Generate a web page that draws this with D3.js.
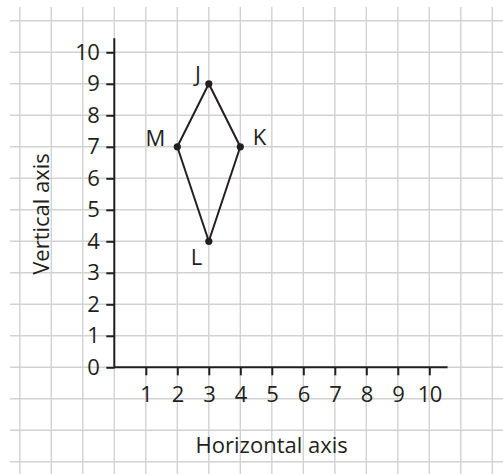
<!DOCTYPE html>
<html>
<head>
<meta charset="utf-8">
<script src="https://cdn.jsdelivr.net/npm/d3@7"></script>
<style>
  html, body { margin: 0; padding: 0; background: #fff; }
  svg { display: block; }
  text { font-family: "Open Sans", sans-serif; fill: #231f20; }
</style>
</head>
<body>
<svg width="503" height="474"></svg>
<script>
// points of the shape
var names = ["J", "K", "L", "M"];
var xs = [3, 4, 3, 2];
var ys = [9, 7, 4, 7];
var xTicks = [1, 2, 3, 4, 5, 6, 7, 8, 9, 10];
var yTicks = [0, 1, 2, 3, 4, 5, 6, 7, 8, 9, 10];
var xTitle = "Horizontal axis";
var yTitle = "Vertical axis";

var svg = d3.select("svg"),
    width = +svg.attr("width"),
    height = +svg.attr("height"),
    ink = "#231f20",
    fs = "22px";

// 1 unit = 31.5px
var x = d3.scaleLinear().domain([0, 10]).range([114.3, 429.3]);
var y = d3.scaleLinear().domain([0, 10]).range([367.3, 52.3]);

// grid
var grid = svg.append("g").attr("stroke", "#d2d2d2").attr("stroke-width", 1.4);
grid.selectAll(".gx").data(d3.range(-3, 13)).enter().append("line")
    .attr("x1", d => x(d)).attr("x2", d => x(d))
    .attr("y1", 7).attr("y2", height);
grid.selectAll(".gy").data(d3.range(-3, 12)).enter().append("line")
    .attr("x1", 10).attr("x2", width)
    .attr("y1", d => y(d)).attr("y2", d => y(d));

// axes
var xAxis = svg.append("g")
    .attr("transform", "translate(0," + y(0) + ")")
    .call(d3.axisBottom(x).tickValues(xTicks).tickSize(8).tickPadding(11).tickFormat(d3.format("d")));
var yAxis = svg.append("g")
    .attr("transform", "translate(" + x(0) + ",0)")
    .call(d3.axisLeft(y).tickValues(yTicks).tickSize(8).tickPadding(7).tickFormat(d3.format("d")));

[xAxis, yAxis].forEach(function(a) {
  a.select(".domain").remove();
  a.selectAll("line").attr("stroke", ink).attr("stroke-width", 2);
  a.selectAll("text").attr("fill", ink).style("font-size", fs).style("letter-spacing", "-0.6px");
});

svg.append("line")
    .attr("x1", x(0)).attr("x2", x(10.58))
    .attr("y1", y(0)).attr("y2", y(0))
    .attr("stroke", ink).attr("stroke-width", 2);
svg.append("line")
    .attr("x1", x(0)).attr("x2", x(0))
    .attr("y1", y(0) + 1).attr("y2", y(10.45))
    .attr("stroke", ink).attr("stroke-width", 2);

// titles
svg.append("text")
    .attr("x", 271.7).attr("y", 453)
    .attr("text-anchor", "middle")
    .style("font-size", fs)
    .text(xTitle);
svg.append("text")
    .attr("transform", "translate(49,214) rotate(-90)")
    .attr("text-anchor", "middle")
    .style("font-size", fs)
    .text(yTitle);

// shape
var pts = names.map((n, i) => ({ name: n, x: xs[i], y: ys[i] }));
svg.append("path")
    .datum(pts)
    .attr("d", d3.line().x(d => x(d.x)).y(d => y(d.y)).curve(d3.curveLinearClosed))
    .attr("fill", "none").attr("stroke", ink).attr("stroke-width", 2)
    .attr("stroke-linejoin", "round");
svg.selectAll(".dot").data(pts).enter().append("circle")
    .attr("cx", d => x(d.x)).attr("cy", d => y(d.y)).attr("r", 3.6)
    .attr("fill", ink);

// label placement (dx, dy, anchor)
var place = { J: [-8, -2, "end"], K: [12.5, -1.5, "start"], L: [-6.5, 23.5, "end"], M: [-12, -1, "end"] };
svg.selectAll(".lbl").data(pts).enter().append("text")
    .attr("x", d => x(d.x) + place[d.name][0])
    .attr("y", d => y(d.y) + place[d.name][1])
    .attr("text-anchor", d => place[d.name][2])
    .style("font-size", fs)
    .text(d => d.name);
</script>
</body>
</html>
